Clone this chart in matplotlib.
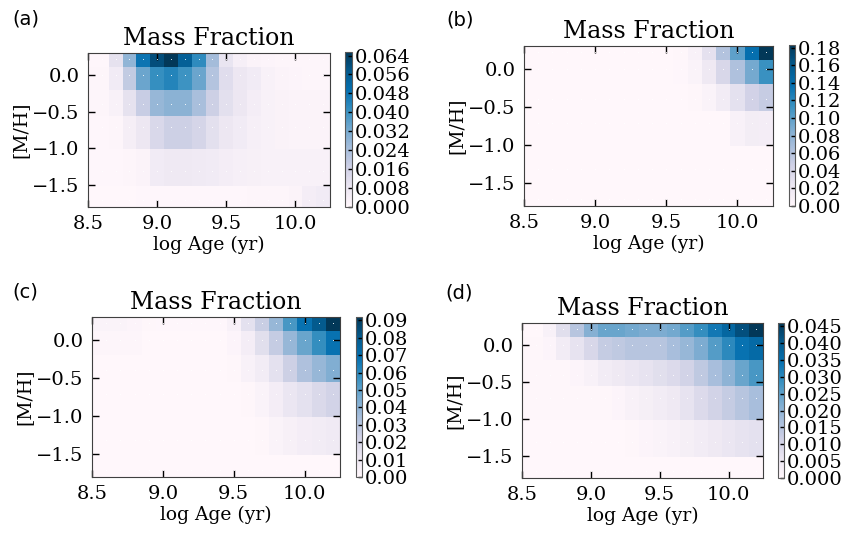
import matplotlib
matplotlib.use("Agg")
import matplotlib.pyplot as plt
import numpy as np
from matplotlib.ticker import FormatStrFormatter

plt.rcParams["font.family"] = "serif"
plt.rcParams["font.serif"] = ["DejaVu Serif"]

# grid of the templates
log_age = [8.5, 8.6, 8.7, 8.8, 8.9, 9.0, 9.1, 9.2, 9.3, 9.4,
           9.5, 9.6, 9.7, 9.8, 9.9, 10.0, 10.1, 10.2]
metal = [-1.71, -1.31, -0.71, -0.40, 0.00, 0.22]

# mass fractions, one row per metallicity (bottom -> top)
weights_a = [
    [0, 0, 0, 0, 0.0003, 0.0005, 0.0005, 0.0005, 0.0005, 0.0005, 0.0005, 0.0005, 0.0008, 0.001, 0.001, 0.002, 0.005, 0.006],
    [0.0005, 0.0005, 0.0005, 0.001, 0.002, 0.006, 0.007, 0.007, 0.0065, 0.006, 0.005, 0.004, 0.0035, 0.003, 0.003, 0.003, 0.003, 0.003],
    [0.0005, 0.0005, 0.001, 0.0045, 0.008, 0.014, 0.017, 0.017, 0.015, 0.011, 0.008, 0.006, 0.004, 0.003, 0.0025, 0.002, 0.002, 0.002],
    [0.001, 0.001, 0.003, 0.010, 0.018, 0.027, 0.029, 0.029, 0.024, 0.017, 0.011, 0.008, 0.005, 0.003, 0.0025, 0.002, 0.002, 0.002],
    [0.001, 0.001, 0.006, 0.019, 0.034, 0.041, 0.044, 0.040, 0.034, 0.022, 0.012, 0.008, 0.006, 0.003, 0.002, 0.0015, 0.001, 0.001],
    [0.0005, 0.0005, 0.010, 0.028, 0.048, 0.060, 0.0655, 0.055, 0.042, 0.025, 0.009, 0.004, 0.002, 0.0015, 0.001, 0.001, 0.0008, 0.0008],
]
weights_b = [
    [0] * 18,
    [0] * 18,
    [0, 0, 0, 0, 0, 0, 0, 0, 0, 0, 0, 0, 0, 0, 0.0005, 0.009, 0.015, 0.014],
    [0, 0, 0, 0, 0, 0, 0, 0, 0, 0, 0, 0, 0.002, 0.006, 0.016, 0.030, 0.045, 0.051],
    [0, 0, 0, 0, 0, 0, 0, 0, 0, 0, 0, 0.001, 0.006, 0.020, 0.040, 0.064, 0.091, 0.113],
    [0, 0, 0, 0, 0, 0, 0, 0, 0, 0, 0, 0.002, 0.009, 0.029, 0.062, 0.100, 0.138, 0.183],
]
weights_c = [
    [0] * 18,
    [0, 0, 0, 0, 0, 0, 0, 0, 0, 0, 0, 0, 0.001, 0.003, 0.005, 0.007, 0.008, 0.009],
    [0, 0, 0, 0, 0, 0, 0, 0, 0, 0, 0, 0.001, 0.003, 0.007, 0.012, 0.015, 0.019, 0.022],
    [0, 0, 0, 0, 0, 0, 0, 0, 0, 0, 0.001, 0.004, 0.008, 0.015, 0.024, 0.032, 0.038, 0.043],
    [0.0015, 0.0015, 0.0015, 0.0015, 0.0003, 0.0003, 0.0003, 0.0003, 0.0003, 0.0003, 0.002, 0.007, 0.016, 0.026, 0.038, 0.048, 0.058, 0.068],
    [0.003, 0.003, 0.003, 0.002, 0.001, 0.0005, 0.0005, 0.0005, 0.0005, 0.0005, 0.004, 0.015, 0.025, 0.038, 0.054, 0.068, 0.080, 0.092],
]
weights_d = [
    [0] * 18,
    [0, 0, 0, 0, 0, 0, 0, 0, 0.0005, 0.001, 0.0015, 0.002, 0.003, 0.004, 0.005, 0.006, 0.007, 0.0075],
    [0.0005, 0.0005, 0.0005, 0.0005, 0.0005, 0.0005, 0.0005, 0.001, 0.002, 0.003, 0.004, 0.005, 0.007, 0.009, 0.011, 0.013, 0.015, 0.017],
    [0.0005, 0.0005, 0.0005, 0.0005, 0.001, 0.002, 0.004, 0.005, 0.006, 0.007, 0.008, 0.009, 0.011, 0.014, 0.017, 0.020, 0.024, 0.027],
    [0.0005, 0.0005, 0.001, 0.004, 0.007, 0.010, 0.013, 0.014, 0.015, 0.015, 0.015, 0.017, 0.019, 0.022, 0.026, 0.030, 0.034, 0.036],
    [0, 0, 0.002, 0.008, 0.015, 0.021, 0.024, 0.024, 0.023, 0.022, 0.022, 0.023, 0.026, 0.029, 0.033, 0.037, 0.042, 0.046],
]

cbar_ticks_a = [0.000, 0.008, 0.016, 0.024, 0.032, 0.040, 0.048, 0.056, 0.064]
cbar_ticks_b = [0.00, 0.02, 0.04, 0.06, 0.08, 0.10, 0.12, 0.14, 0.16, 0.18]
cbar_ticks_c = [0.00, 0.01, 0.02, 0.03, 0.04, 0.05, 0.06, 0.07, 0.08, 0.09]
cbar_ticks_d = [0.000, 0.005, 0.010, 0.015, 0.020, 0.025, 0.030, 0.035, 0.040, 0.045]

panels = [
    # label, label pos, weights, ticks, fmt, axes box, colorbar box (pixels: x0, y0, x1, y1)
    ("(a)", (12, 19), weights_a, cbar_ticks_a, "%.3f", (88, 53, 330, 207), (345, 52, 352, 207)),
    ("(b)", (446, 20), weights_b, cbar_ticks_b, "%.2f", (524, 46, 773, 206), (789, 45, 795, 206)),
    ("(c)", (12, 292), weights_c, cbar_ticks_c, "%.2f", (92, 317, 340, 477), (356, 317, 362, 477)),
    ("(d)", (445, 293), weights_d, cbar_ticks_d, "%.3f", (522, 323, 763, 478), (778, 323, 784, 478)),
]

W, H = 849, 534
fig = plt.figure(figsize=(W / 100, H / 100), dpi=100)


def rect(r):
    x0, y0, x1, y1 = r
    return [x0 / W, 1 - y1 / H, (x1 - x0) / W, (y1 - y0) / H]


xx, yy = np.meshgrid(log_age, metal)

for label, lpos, w, ticks, fmt, arect, crect in panels:
    ax = fig.add_axes(rect(arect))
    w = np.array(w)
    pc = ax.pcolormesh(log_age, metal, w, cmap="PuBu", shading="nearest",
                       vmin=0, vmax=w.max())
    ax.plot(xx.ravel(), yy.ravel(), "w.", ms=1.5, mec="none")
    ax.set_xlim(8.5, 10.25)
    ax.set_ylim(-1.8, 0.3)
    ax.set_xticks([8.5, 9.0, 9.5, 10.0])
    ax.set_yticks([0.0, -0.5, -1.0, -1.5])
    ax.tick_params(direction="in", top=True, right=True, length=5, width=1,
                   labelsize=14, pad=6)
    for s in ax.spines.values():
        s.set_color("0.25")
    ax.set_xlabel("log Age (yr)", fontsize=13.5, labelpad=2)
    ax.set_ylabel("[M/H]", fontsize=13.5, labelpad=2)
    ax.set_title("Mass Fraction", fontsize=17, pad=6)

    cax = fig.add_axes(rect(crect))
    cb = fig.colorbar(pc, cax=cax, ticks=ticks)
    cb.ax.yaxis.set_major_formatter(FormatStrFormatter(fmt))
    cb.ax.tick_params(direction="in", length=3, width=1, labelsize=14, pad=2)
    cb.outline.set_edgecolor("0.35")

    fig.text(lpos[0] / W, 1 - lpos[1] / H, label, family="DejaVu Sans",
             fontsize=14, va="center", ha="left")

fig.savefig("out.png", dpi=100)
